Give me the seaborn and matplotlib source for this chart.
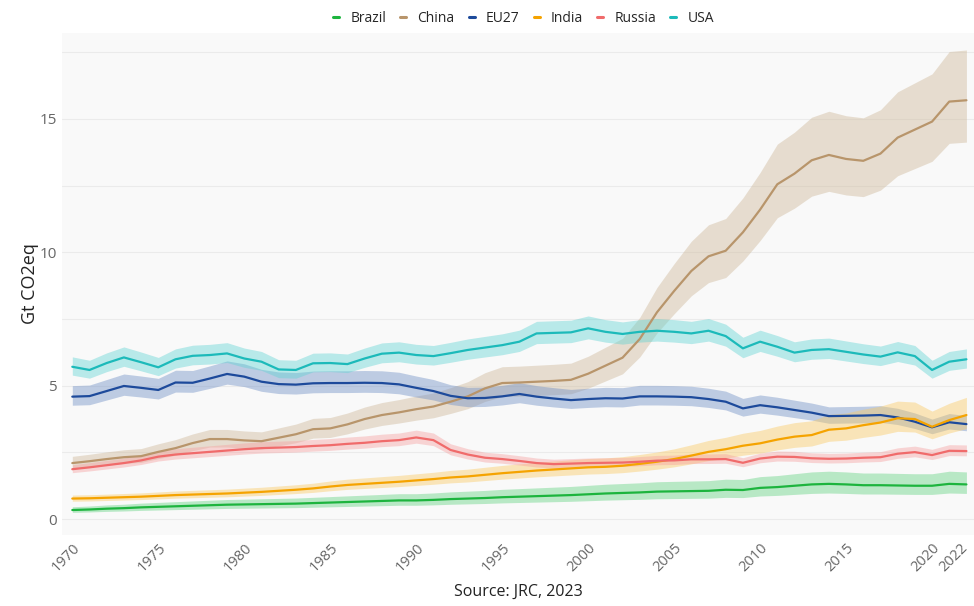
import numpy as np
import pandas as pd
import seaborn as sns
import matplotlib.pyplot as plt
import matplotlib.transforms as mtransforms

years = list(range(1970, 2023))

brazil = [0.34, 0.36, 0.39, 0.41, 0.44, 0.46, 0.48, 0.50, 0.52, 0.54,
          0.55, 0.56, 0.57, 0.58, 0.60, 0.62, 0.64, 0.66, 0.68, 0.70,
          0.70, 0.72, 0.75, 0.77, 0.79, 0.82, 0.84, 0.86, 0.88, 0.90,
          0.93, 0.96, 0.98, 1.00, 1.03, 1.04, 1.05, 1.06, 1.10, 1.09,
          1.17, 1.20, 1.25, 1.30, 1.32, 1.30, 1.27, 1.27, 1.26, 1.25,
          1.25, 1.32, 1.30]

china = [2.10, 2.17, 2.25, 2.32, 2.36, 2.52, 2.66, 2.85, 3.00, 3.00,
         2.95, 2.92, 3.05, 3.18, 3.37, 3.40, 3.55, 3.75, 3.90, 4.00,
         4.12, 4.22, 4.40, 4.60, 4.90, 5.10, 5.12, 5.15, 5.18, 5.22,
         5.45, 5.75, 6.05, 6.75, 7.75, 8.55, 9.30, 9.85, 10.06, 10.75,
         11.60, 12.55, 12.95, 13.45, 13.65, 13.50, 13.43, 13.70, 14.30, 14.60,
         14.90, 15.65, 15.70]

eu27 = [4.59, 4.61, 4.80, 4.99, 4.92, 4.84, 5.12, 5.11, 5.27, 5.44,
        5.34, 5.15, 5.06, 5.04, 5.09, 5.10, 5.10, 5.11, 5.10, 5.05,
        4.92, 4.80, 4.62, 4.53, 4.54, 4.60, 4.69, 4.59, 4.52, 4.46,
        4.50, 4.53, 4.52, 4.60, 4.60, 4.59, 4.57, 4.50, 4.40, 4.15,
        4.27, 4.19, 4.09, 3.99, 3.86, 3.87, 3.88, 3.90, 3.81, 3.65,
        3.44, 3.63, 3.56]

india = [0.77, 0.78, 0.80, 0.82, 0.84, 0.87, 0.90, 0.92, 0.94, 0.96,
         0.99, 1.02, 1.06, 1.10, 1.15, 1.22, 1.28, 1.32, 1.36, 1.40,
         1.45, 1.50, 1.56, 1.60, 1.66, 1.72, 1.77, 1.82, 1.86, 1.90,
         1.94, 1.96, 2.00, 2.07, 2.15, 2.25, 2.38, 2.52, 2.62, 2.75,
         2.84, 2.98, 3.09, 3.15, 3.35, 3.40, 3.52, 3.62, 3.78, 3.75,
         3.46, 3.71, 3.90]

russia = [1.87, 1.94, 2.02, 2.10, 2.20, 2.34, 2.42, 2.47, 2.52, 2.57,
          2.62, 2.66, 2.68, 2.70, 2.74, 2.77, 2.82, 2.86, 2.92, 2.96,
          3.06, 2.96, 2.59, 2.42, 2.30, 2.25, 2.18, 2.10, 2.06, 2.08,
          2.10, 2.11, 2.12, 2.15, 2.19, 2.20, 2.24, 2.24, 2.25, 2.11,
          2.27, 2.34, 2.33, 2.28, 2.26, 2.27, 2.30, 2.32, 2.45, 2.51,
          2.40, 2.56, 2.55]

usa = [5.71, 5.59, 5.85, 6.06, 5.88, 5.69, 5.99, 6.12, 6.15, 6.21,
       6.02, 5.90, 5.61, 5.59, 5.84, 5.85, 5.81, 6.02, 6.20, 6.24,
       6.15, 6.11, 6.22, 6.34, 6.43, 6.52, 6.65, 6.96, 6.98, 7.00,
       7.15, 7.02, 6.94, 7.02, 7.06, 7.02, 6.96, 7.06, 6.86, 6.40,
       6.65, 6.46, 6.24, 6.34, 6.37, 6.27, 6.17, 6.09, 6.25, 6.11,
       5.59, 5.90, 5.99]

countries = ["Brazil", "China", "EU27", "India", "Russia", "USA"]
series = [brazil, china, eu27, india, russia, usa]

# relative uncertainty range (lower, upper) for each country
uncertainty = {
    "Brazil": (0.26, 0.36),
    "China": (0.10, 0.12),
    "EU27": (0.07, 0.09),
    "India": (0.13, 0.17),
    "Russia": (0.07, 0.09),
    "USA": (0.055, 0.065),
}

line_colors = {
    "Brazil": "#1db43e",
    "China": "#b8956b",
    "EU27": "#1d4a9b",
    "India": "#f5a300",
    "Russia": "#f06b6b",
    "USA": "#1cbaba",
}
band_colors = {
    "Brazil": "#5fd27f",
    "China": "#cdb696",
    "EU27": "#6b8cc4",
    "India": "#fbc95f",
    "Russia": "#f6a0a0",
    "USA": "#5fd3d3",
}

df = pd.DataFrame({
    "year": np.tile(years, len(countries)),
    "country": np.repeat(countries, len(years)),
    "value": np.concatenate(series),
})

sns.set_theme(style="white")
plt.rcParams["font.family"] = ["Open Sans", "DejaVu Sans"]

fig = plt.figure(figsize=(9.74, 6.06), dpi=100)
ax = fig.add_axes([0.064, 0.117, 0.936, 0.8285])
ax.set_facecolor("#f9f9f9")

for name, vals in zip(countries, series):
    v = np.asarray(vals)
    lo, hi = uncertainty[name]
    ax.fill_between(years, v * (1 - lo), v * (1 + hi),
                    color=band_colors[name], alpha=0.42, linewidth=0, zorder=2)

sns.lineplot(data=df, x="year", y="value", hue="country", hue_order=countries,
             palette=line_colors, linewidth=1.6, ax=ax, zorder=3, legend=False)

ax.set_xlim(1969.42, 2022.44)
ax.set_ylim(-0.6, 18.22)
ax.set_yticks([0, 5, 10, 15])
ax.set_yticks(np.arange(0, 18.0, 2.5), minor=True)
ax.grid(axis="y", which="both", color="#ebebeb", linewidth=0.8, zorder=0)
ax.grid(axis="x", visible=False)
for s in ax.spines.values():
    s.set_visible(False)

xt = [1970, 1975, 1980, 1985, 1990, 1995, 2000, 2005, 2010, 2015, 2020, 2022]
ax.set_xticks(xt)
ax.set_xticklabels([str(t) for t in xt], rotation=45, ha="right", va="top",
                   rotation_mode="anchor", color="#666666", fontsize=10.5)
ax.tick_params(axis="x", pad=4, length=0)
ax.tick_params(axis="y", labelsize=11, labelcolor="#666666", pad=4, length=0)

# keep the last year label inside the figure edge
last = ax.get_xticklabels()[-1]
last.set_transform(last.get_transform()
                   + mtransforms.ScaledTranslation(-6 / 100, 0, fig.dpi_scale_trans))

ax.set_ylabel("Gt CO2eq", fontsize=13, color="#222222", labelpad=0)
ax.set_xlabel("Source: JRC, 2023", fontsize=11.5, color="#222222", labelpad=6)

handles = [plt.Line2D([0], [0], color=line_colors[c], linewidth=2.2) for c in countries]
fig.legend(handles, countries, loc="center", bbox_to_anchor=(0.5375, 0.97),
           ncol=6, frameon=False, fontsize=10, handlelength=0.45,
           handletextpad=0.8, columnspacing=1.0)

fig.savefig("out.png", dpi=100)
